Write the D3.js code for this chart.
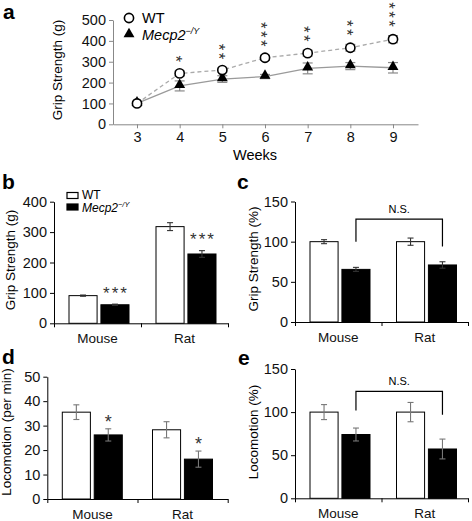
<!DOCTYPE html>
<html><head><meta charset="utf-8">
<script src="https://cdn.jsdelivr.net/npm/d3@7"></script>
<style>
html,body{margin:0;padding:0;background:#fff;}
svg{display:block;font-family:"Liberation Sans",Arial,sans-serif;}
</style></head>
<body>
<svg id="c" width="472" height="521"></svg>
<script>
// ---- Panel a data ----
const weeks = [3,4,5,6,7,8,9];
const wtGrip = [100,244,260,319,341,367,408];
const wtGripErr = [8,12,10,12,14,16,17];
const koGrip = [100,184,217,229,268,279,271];
const koGripErr = [6,24,16,10,26,17,25];
const sigA = [0,1,2,3,2,2,3];
const yTicksA = [0,100,200,300,400,500];

// ---- Bar panels data ----
const species = ["Mouse","Rat"];
const groups = ["WT","Mecp2"];
const gripB_WT = [91,318], gripB_WTErr = [2,13];
const gripB_KO = [61,228], gripB_KOErr = [2,11];
const sigB = [3,3];
const gripC_WT = [100,100], gripC_WTErr = [2.5,4.5];
const gripC_KO = [65.5,71], gripC_KOErr = [2.5,4];
const locoD_WT = [35.5,28.3], locoD_WTErr = [3,3.3];
const locoD_KO = [26.2,16.3], locoD_KOErr = [2.5,3.3];
const sigD = [1,1];
const locoE_WT = [100,100], locoE_WTErr = [8.7,11.2];
const locoE_KO = [74,57.2], locoE_KOErr = [7.5,11.5];
const ticksB = [0,100,200,300,400];
const ticksC = [0,50,100,150];
const ticksD = [0,10,20,30,40,50];
const ticksE = [0,50,100,150];

const svg = d3.select("#c");
const FONT = "'Liberation Sans',Arial,sans-serif";

function panelLabel(t,x,y){
  svg.append("text").attr("x",x).attr("y",y).attr("font-size",21).attr("font-weight","bold").text(t);
}
function mecpText(sel, size){
  sel.append("tspan").attr("font-style","italic").text("Mecp2");
  sel.append("tspan").attr("font-style","italic").attr("font-size",size*0.62).attr("dy",-size*0.42).text("\u2212/Y");
}
// vertical stack of asterisks as ONE text run, turned to run downward
function starStack(n, x, yBottomCenter, spacing, size){
  const adv = 0.389*size, ls = spacing - adv;
  const mid = yBottomCenter - (n-1)*spacing/2;
  svg.append("text").attr("fill","#333").attr("font-size",size).attr("text-anchor","middle")
    .attr("letter-spacing",ls)
    .attr("transform",`translate(${x - 0.575*size},${mid + ls/2}) rotate(90)`)
    .text("*".repeat(n));
}
function starRow(n, x, yCenter, size){
  svg.append("text").attr("fill","#333").attr("font-size",size).attr("text-anchor","middle")
    .attr("x",x+1).attr("y",yCenter + size*0.575).attr("letter-spacing",2).text("*".repeat(n));
}

// ================= Panel a =================
(function(){
  const x = d3.scaleLinear().domain([2.4375,9.586]).range([113,418]);
  const y = d3.scaleLinear().domain([0,500]).range([124.3,20]);
  const axCol = "#888";
  const gx = svg.append("g").attr("transform","translate(0,124.3)")
    .call(d3.axisBottom(x).tickValues(weeks).tickSize(4).tickSizeOuter(0).tickPadding(3));
  const gy = svg.append("g").attr("transform","translate(113,0)")
    .call(d3.axisLeft(y).tickValues(yTicksA).tickSize(4).tickSizeOuter(0).tickPadding(3));
  [gx,gy].forEach(g=>{
    g.selectAll("path,line").attr("stroke",axCol);
    g.selectAll("text").attr("font-size",14.5).attr("font-family",FONT).attr("fill","#111");
  });
  svg.append("text").attr("x",255).attr("y",160).attr("text-anchor","middle").attr("font-size",14.5).text("Weeks");
  svg.append("text").attr("transform","translate(62,70) rotate(-90)").attr("text-anchor","middle").attr("font-size",13.5).text("Grip Strength (g)");

  const line = d3.line().x((d,i)=>x(weeks[i])).y(d=>y(d));
  svg.append("path").attr("d",line(koGrip)).attr("fill","none").attr("stroke","#9a9a9a").attr("stroke-width",1.3);
  svg.append("path").attr("d",line(wtGrip)).attr("fill","none").attr("stroke","#aaa").attr("stroke-width",1.3).attr("stroke-dasharray","4,3");

  function errs(vals, errsArr){
    const g = svg.append("g").attr("stroke","#8a8a8a").attr("stroke-width",1.2);
    vals.forEach((v,i)=>{
      const cx = x(weeks[i]);
      g.append("line").attr("x1",cx).attr("x2",cx).attr("y1",y(v-errsArr[i])).attr("y2",y(v+errsArr[i]));
      [v-errsArr[i], v+errsArr[i]].forEach(e=>g.append("line").attr("x1",cx-5).attr("x2",cx+5).attr("y1",y(e)).attr("y2",y(e)));
    });
  }
  errs(koGrip, koGripErr);
  errs(wtGrip, wtGripErr);
  const tri = d3.symbol().type(d3.symbolTriangle).size(52);
  svg.append("g").selectAll("path").data(koGrip).join("path")
    .attr("transform",(d,i)=>`translate(${x(weeks[i])},${y(d)-1})`).attr("d",tri()).attr("fill","#000");
  svg.append("g").selectAll("circle").data(wtGrip).join("circle")
    .attr("cx",(d,i)=>x(weeks[i])).attr("cy",d=>y(d)).attr("r",4.6)
    .attr("fill","#fff").attr("stroke","#000").attr("stroke-width",1.6);

  sigA.forEach((n,i)=>{ if(n>0) starStack(n, x(weeks[i]), y(wtGrip[i]+wtGripErr[i]) - 12, 9, 17); });

  // legend
  svg.append("circle").attr("cx",129).attr("cy",18).attr("r",4.6).attr("fill","#fff").attr("stroke","#000").attr("stroke-width",1.6);
  svg.append("path").attr("transform","translate(129,34)").attr("d",tri()).attr("fill","#000");
  svg.append("text").attr("x",142).attr("y",23).attr("font-size",14.5).text("WT");
  const t = svg.append("text").attr("x",142).attr("y",40).attr("font-size",14.5);
  mecpText(t,14.5);
  panelLabel("a",3,19);
})();

// ================= Bar panels =================
function barPanel(cfg){
  const x = d3.scaleBand().domain(species).range([cfg.x0,cfg.x1]);
  const sub = d3.scaleBand().domain(groups).range([15,75]).paddingInner(0.12);
  const y = d3.scaleLinear().domain([0,cfg.ymax]).range([cfg.yb,cfg.yt]);
  const xb = d3.scaleLinear().domain([0,2]).range([cfg.x0,cfg.x1]);
  const gxb = svg.append("g").attr("transform",`translate(0,${cfg.yb})`)
    .call(d3.axisBottom(xb).tickValues([0,1,2]).tickSize(4).tickSizeOuter(0).tickFormat(""));
  const gx = svg.append("g").attr("transform",`translate(0,${cfg.yb})`)
    .call(d3.axisBottom(x).tickSize(0).tickPadding(cfg.catPad));
  gx.select(".domain").remove();
  const gy = svg.append("g").attr("transform",`translate(${cfg.x0},0)`)
    .call(d3.axisLeft(y).tickValues(cfg.ticks).tickSize(4).tickSizeOuter(0).tickPadding(3));
  [gxb,gx,gy].forEach(g=>{
    g.selectAll("path,line").attr("stroke","#000");
    g.selectAll("text").attr("font-family",FONT).attr("fill","#111");
  });
  gy.selectAll("text").attr("font-size",14.5);
  gx.selectAll("text").attr("font-size",13.5);

  const sets = [[cfg.wt,cfg.wtE,"WT","#fff"],[cfg.ko,cfg.koE,"Mecp2","#000"]];
  sets.forEach(([vals,es,grp,fill])=>{
    vals.forEach((v,i)=>{
      const bx = x(species[i]) + sub(grp);
      svg.append("rect").attr("x",bx).attr("y",y(v)).attr("width",sub.bandwidth()).attr("height",y(0)-y(v))
        .attr("fill",fill).attr("stroke","#000").attr("stroke-width",1);
      const cx = bx + sub.bandwidth()/2;
      const g = svg.append("g").attr("stroke",cfg.errCol).attr("stroke-width",1.1);
      g.append("line").attr("x1",cx).attr("x2",cx).attr("y1",y(v-es[i])).attr("y2",y(v+es[i]));
      [v-es[i],v+es[i]].forEach(e=>g.append("line").attr("x1",cx-3).attr("x2",cx+3).attr("y1",y(e)).attr("y2",y(e)));
    });
  });
  if(cfg.sig){
    cfg.sig.forEach((n,i)=>{
      const cx = x(species[i]) + sub("Mecp2") + sub.bandwidth()/2;
      starRow(n, cx, y(cfg.ko[i]+cfg.koE[i]) - cfg.sigGap, cfg.sigSize);
    });
  }
  if(cfg.bracket){
    const [top,l,r] = cfg.bracket;
    const lx = x(species[0]) + sub("Mecp2") + sub.bandwidth()/2;
    const rx = x(species[1]) + sub("Mecp2") + sub.bandwidth()/2;
    svg.append("path").attr("d",`M${lx},${y(l)}V${y(top)}H${rx}V${y(r)}`)
      .attr("fill","none").attr("stroke","#000").attr("stroke-width",1.2);
    svg.append("text").attr("x",(lx+rx)/2).attr("y",y(top)-6).attr("text-anchor","middle").attr("font-size",11).text("N.S.");
  }
  svg.append("text").attr("transform",`translate(${cfg.tx},${cfg.ty}) rotate(-90)`).attr("text-anchor","middle")
    .attr("font-size",13.5).text(cfg.title);
  return {x,y,sub};
}

barPanel({x0:54,x1:228,yb:323.3,yt:201.7,ymax:400,ticks:ticksB,wt:gripB_WT,wtE:gripB_WTErr,ko:gripB_KO,koE:gripB_KOErr,
  sig:sigB,sigGap:15,sigSize:17,errCol:"#333",catPad:10,title:"Grip Strength (g)",tx:15,ty:260});
panelLabel("b",2,189);
// legend b
svg.append("rect").attr("x",67).attr("y",192.5).attr("width",11).attr("height",6).attr("fill","#fff").attr("stroke","#000").attr("stroke-width",1.2);
svg.append("rect").attr("x",67).attr("y",204).attr("width",11).attr("height",6).attr("fill","#000").attr("stroke","#000").attr("stroke-width",1.2);
svg.append("text").attr("x",82).attr("y",198.5).attr("font-size",12).text("WT");
mecpText(svg.append("text").attr("x",82).attr("y",212).attr("font-size",12),12);

barPanel({x0:295,x1:468,yb:322,yt:201.5,ymax:150,ticks:ticksC,wt:gripC_WT,wtE:gripC_WTErr,ko:gripC_KO,koE:gripC_KOErr,
  bracket:[128,100,94],errCol:"#333",catPad:10,title:"Grip Strength (%)",tx:258,ty:259});
panelLabel("c",237,189);

barPanel({x0:47.3,x1:227.7,yb:499,yt:376.7,ymax:50,ticks:ticksD,wt:locoD_WT,wtE:locoD_WTErr,ko:locoD_KO,koE:locoD_KOErr,
  sig:sigD,sigGap:11,sigSize:18,errCol:"#777",catPad:10,title:"Locomotion (per min)",tx:11,ty:432});
panelLabel("d",2,364);

barPanel({x0:295,x1:468,yb:498.3,yt:369,ymax:150,ticks:ticksE,wt:locoE_WT,wtE:locoE_WTErr,ko:locoE_KO,koE:locoE_KOErr,
  bracket:[124,102,97],errCol:"#777",catPad:10,title:"Locomotion (%)",tx:258,ty:432});
panelLabel("e",238,365);
</script>
</body></html>
